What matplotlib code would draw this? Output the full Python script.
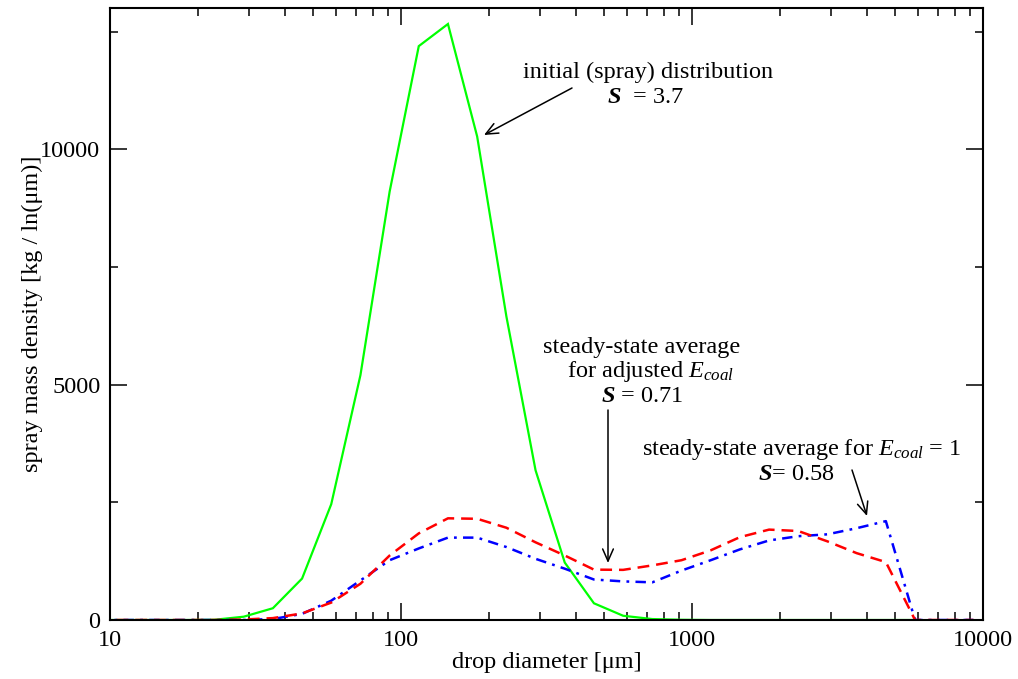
import matplotlib
matplotlib.use("Agg")
import matplotlib.pyplot as plt
from matplotlib.ticker import FixedLocator, LogLocator, NullFormatter, FixedFormatter

plt.rcParams['font.family'] = ['Liberation Serif', 'DejaVu Serif']
plt.rcParams['mathtext.fontset'] = 'custom'
plt.rcParams['mathtext.rm'] = 'Liberation Serif'
plt.rcParams['mathtext.it'] = 'Liberation Serif:italic'
plt.rcParams['mathtext.bf'] = 'Liberation Serif:bold'
plt.rcParams['mathtext.bfit'] = 'Liberation Serif:italic:bold'
plt.rcParams['lines.scale_dashes'] = False

# ---------------- data ----------------
diam_all = [9.08, 11.44, 14.40, 18.15, 22.86, 28.80, 36.28, 45.71, 57.58, 72.54,
            91.40, 115.1, 145.0, 182.7, 230.2, 290.0, 365.4, 460.3, 579.9, 730.6,
            920.4, 1159.6, 1460.9, 1840.5, 2318.7, 2921.2, 3680.2, 4636.5, 5841.2,
            7359.0, 9271.0]
diam_initial = diam_all[:29]

initial = [0, 0, 0, 0, 5, 70, 250, 880, 2460, 5200, 9100, 12190, 12660, 10270,
           6450, 3180, 1220, 355, 90, 20, 5, 0, 0, 0, 0, 0, 0, 0, 0]
adjusted = [0, 0, 0, 0, 0, 10, 40, 140, 370, 770, 1370, 1840, 2160, 2150, 1960,
            1650, 1370, 1070, 1065, 1160, 1270, 1480, 1760, 1920, 1890, 1670,
            1420, 1230, 0, 0, 0]
ecoal1 = [0, 0, 0, 0, 0, 0, 20, 130, 410, 840, 1270, 1520, 1750, 1750, 1550,
          1300, 1090, 860, 820, 800, 1050, 1270, 1500, 1690, 1780, 1820, 1950,
          2100, 0, 0, 0]

xticks = [10, 100, 1000, 10000]
xticklabels = ['10', '100', '1000', '10000']
yticks = [0, 5000, 10000]
yticklabels = ['0', '5000', '10000']
yminor = [2500, 7500, 12500]

W, H = 1018, 679
fig = plt.figure(figsize=(W / 100, H / 100), dpi=100)
ax = fig.add_axes([110 / W, 1 - 620 / H, 873 / W, 612 / H])

FS = 17.5
ax.plot(diam_initial, initial, color='#00ff00', lw=1.6, solid_joinstyle='miter')
l_blue, = ax.plot(diam_all, ecoal1, color='#0000ff', lw=1.8)
l_blue.set_dashes([7.5, 4.5, 2, 4.5])
l_red, = ax.plot(diam_all, adjusted, color='#ff0000', lw=1.8)
l_red.set_dashes([8.5, 5])

ax.set_xscale('log')
ax.set_xlim(10, 10000)
ax.set_ylim(0, 13000)

ax.xaxis.set_major_locator(FixedLocator(xticks))
ax.xaxis.set_major_formatter(FixedFormatter(xticklabels))
ax.xaxis.set_minor_locator(LogLocator(base=10, subs=range(2, 10)))
ax.xaxis.set_minor_formatter(NullFormatter())
ax.yaxis.set_major_locator(FixedLocator(yticks))
ax.yaxis.set_major_formatter(FixedFormatter(yticklabels))
ax.yaxis.set_minor_locator(FixedLocator(yminor))

ax.tick_params(which='both', direction='in', top=True, right=True,
               labelsize=FS, width=1.1, color='black')
ax.tick_params(which='major', length=12, pad=7)
ax.tick_params(which='minor', length=6)
for s in ax.spines.values():
    s.set_linewidth(1.5)

ax.set_xlabel('drop diameter [μm]', fontsize=FS)
ax.set_ylabel('spray mass density [kg / ln(μm)]', fontsize=FS)
ax.xaxis.set_label_coords(0.5, -0.052)
ax.yaxis.set_label_coords(-0.077, 0.5)


def fp(px, py):
    return (px / W, 1 - py / H)


def txt(px, py, s):
    fig.text(*fp(px, py), s, ha='center', va='baseline', fontsize=FS)


txt(648, 78, 'initial (spray) distribution')
txt(646, 103, r'$\mathbfit{S}$  = 3.7')
txt(642, 353, 'steady-state average')
txt(650, 377, r'for adjusted $E_{coal}$')
txt(642, 402, r'$\mathbfit{S}$ = 0.71')
txt(802, 455, r'steady-state average for $E_{coal}$ = 1')
txt(796, 480, r'$\mathbfit{S}$= 0.58')

aprops = dict(arrowstyle='->,head_length=0.5,head_width=0.22', lw=1.1,
              color='black', shrinkA=0, shrinkB=0)
for tail, head in [((572, 88), (484, 135)), ((608, 410), (608, 563)),
                   ((852, 470), (867, 516))]:
    ax.annotate('', xy=fp(*head), xycoords='figure fraction',
                xytext=fp(*tail), textcoords='figure fraction',
                arrowprops=aprops, fontsize=FS)

fig.savefig('out.png', dpi=100)
